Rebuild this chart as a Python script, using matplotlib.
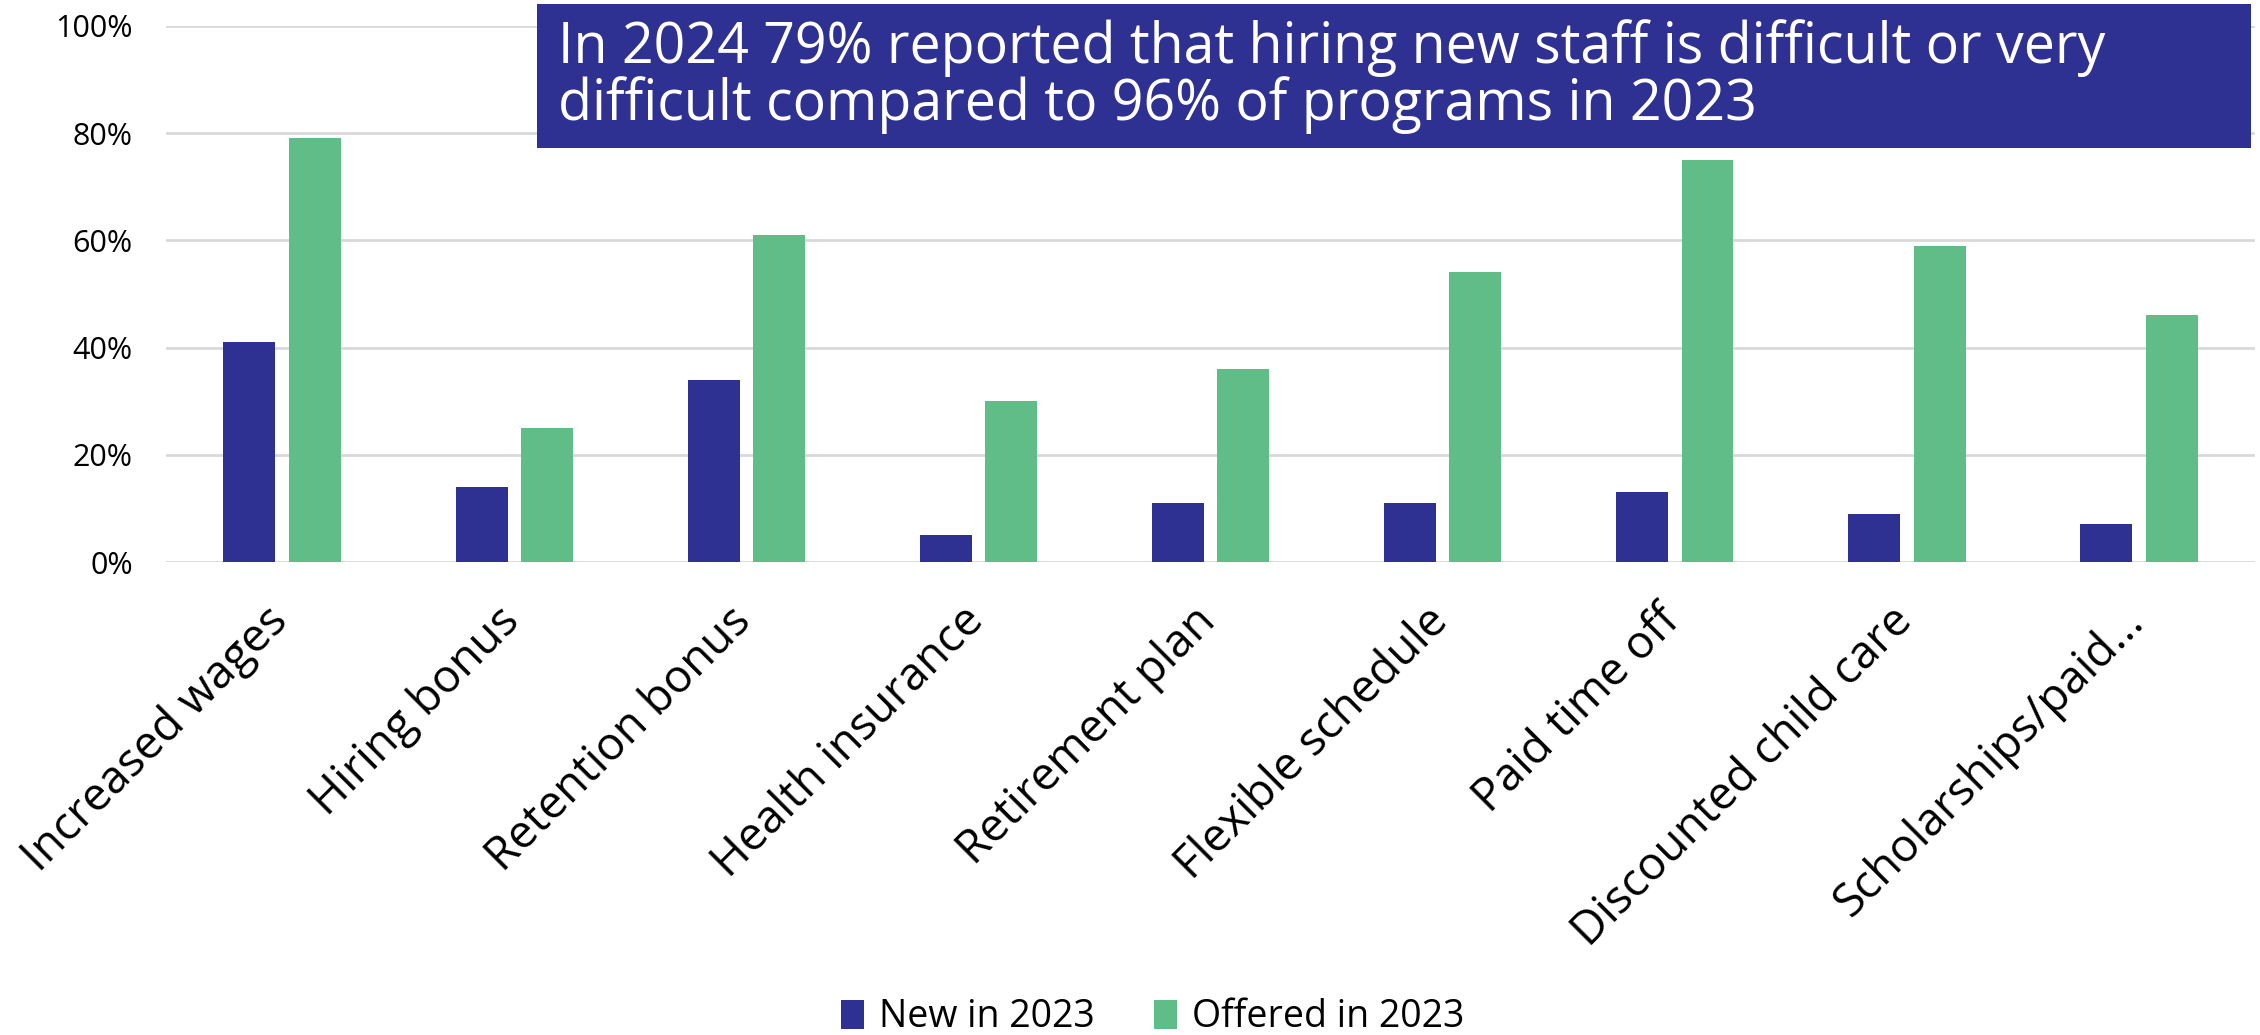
import matplotlib.pyplot as plt
import matplotlib.transforms as mtransforms
import numpy as np
from matplotlib.patches import Rectangle

plt.rcParams['font.family'] = ['Open Sans', 'DejaVu Sans']

# benefits offered to staff
categories = ['Increased wages', 'Hiring bonus', 'Retention bonus', 'Health insurance',
              'Retirement plan', 'Flexible schedule', 'Paid time off',
              'Discounted child care', 'Scholarships/paid...']
new_2023 = [41, 14, 34, 5, 11, 11, 13, 9, 7]
offered_2023 = [79, 25, 61, 30, 36, 54, 75, 59, 46]
series_names = ['New in 2023', 'Offered in 2023']
yticks = [0, 20, 40, 60, 80, 100]
headline = ('In 2024 79% reported that hiring new staff is difficult or very\n'
            'difficult compared to 96% of programs in 2023')

navy = '#2E3192'
green = '#61BD87'

fig = plt.figure(figsize=(22.6, 10.35), dpi=100)
ax = fig.add_axes([0.0735, 0.457, 0.9243, 0.518])

x = np.arange(len(categories))
w = 0.224
ax.bar(x - 0.141, new_2023, width=w, color=navy, label=series_names[0], zorder=2)
ax.bar(x + 0.141, offered_2023, width=w, color=green, label=series_names[1], zorder=2)

ax.set_xlim(-0.5, len(categories) - 0.5)
ax.set_ylim(0, 100)
ax.set_yticks(yticks)
ax.set_yticklabels([f'{v}%' for v in yticks], fontsize=22)
ax.set_xticks(x)
ax.set_xticklabels(categories, rotation=45, ha='right', rotation_mode='anchor',
                   fontsize=33)
ax.tick_params(axis='both', length=0)
ax.tick_params(axis='y', pad=24)
ax.tick_params(axis='x', pad=26)
# nudge the slanted category labels a little to the left
shift = mtransforms.ScaledTranslation(-0.18, 0, fig.dpi_scale_trans)
for lbl in ax.get_xticklabels():
    lbl.set_transform(lbl.get_transform() + shift)
ax.grid(axis='y', color='#d9d9d9', linewidth=2, zorder=0)
ax.set_axisbelow(True)
for s in ax.spines.values():
    s.set_visible(False)

# headline box across the top
fig.patches.append(Rectangle((0.2376, 0.857), 0.7584, 0.139, transform=fig.transFigure,
                             facecolor=navy, edgecolor='none', zorder=5))
fig.text(0.247, 0.926, headline, color='white', fontsize=40, va='center', ha='left',
         linespacing=1.0, zorder=6)

fig.legend(loc='center', bbox_to_anchor=(0.51, 0.017), ncol=2, frameon=False,
           fontsize=27, handlelength=0.6, handleheight=0.8, columnspacing=1.6,
           handletextpad=0.4)

fig.savefig('out.png', dpi=100)
